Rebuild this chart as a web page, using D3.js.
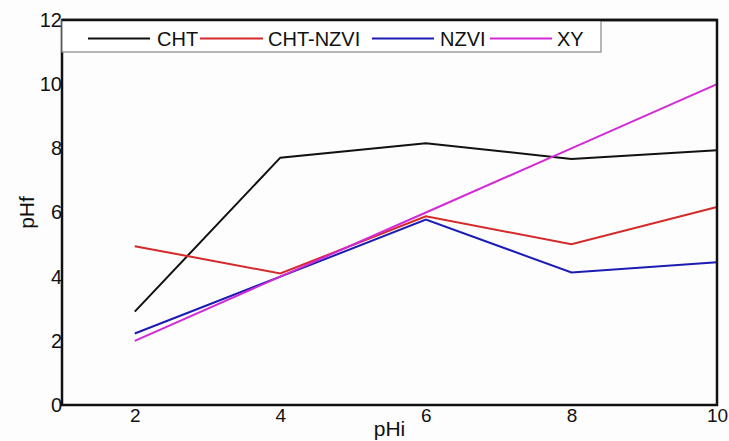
<!DOCTYPE html>
<html>
<head>
<meta charset="utf-8">
<script src="https://cdn.jsdelivr.net/npm/d3@7"></script>
<style>
  html, body { margin: 0; padding: 0; background: #fdfdfd; }
  svg { display: block; }
  text { font-family: "Liberation Sans", Arial, sans-serif; fill: #111; }
</style>
</head>
<body>
<svg id="chart" width="729" height="441"></svg>
<script>
// Initial pH vs final pH for each adsorbent
const pHi = [2, 4, 6, 8, 10];
const cht = [2.91, 7.71, 8.16, 7.67, 7.94];
const chtNzvi = [4.95, 4.1, 5.88, 5.01, 6.17];
const nzvi = [2.23, 4.0, 5.78, 4.13, 4.45];
const xy = [2, 4, 6, 8, 10];
const xTicks = [2, 4, 6, 8, 10];
const yTicks = [0, 2, 4, 6, 8, 10, 12];

const seriesNames = ["CHT", "CHT-NZVI", "NZVI", "XY"];
const seriesValues = [cht, chtNzvi, nzvi, xy];
const seriesColors = ["#111111", "#d42a2a", "#1c1cb4", "#d22ad6"];

const svg = d3.select("#chart");
const margin = { left: 62, right: 12, top: 20, bottom: 36 };
const W = 729, H = 441;

const x = d3.scaleLinear().domain([1, 10]).range([margin.left, W - margin.right]);
const y = d3.scaleLinear().domain([0, 12]).range([H - margin.bottom, margin.top]);

// Series lines
const line = d3.line().x((d, i) => x(pHi[i])).y(d => y(d));
svg.append("g").selectAll("path")
  .data(seriesValues)
  .join("path")
  .attr("d", d => line(d))
  .attr("fill", "none")
  .attr("stroke", (d, i) => seriesColors[i])
  .attr("stroke-width", 2)
  .attr("stroke-linejoin", "miter");

// Axes without tick marks, labels hugging the frame
const xAxis = svg.append("g")
  .attr("transform", `translate(0,${y(0)})`)
  .call(d3.axisBottom(x).tickValues(xTicks).tickSize(0).tickPadding(3));
xAxis.select(".domain").remove();
xAxis.selectAll("text").attr("font-size", 19).attr("font-family", "Liberation Sans, Arial, sans-serif").attr("fill", "#111");

const yAxis = svg.append("g")
  .attr("transform", `translate(${x(1)},0)`)
  .call(d3.axisLeft(y).tickValues(yTicks).tickSize(0).tickPadding(0));
yAxis.select(".domain").remove();
yAxis.selectAll("text").attr("font-size", 20).attr("font-family", "Liberation Sans, Arial, sans-serif").attr("fill", "#111");

// Frame
svg.append("rect")
  .attr("x", x(1)).attr("y", y(12))
  .attr("width", x(10) - x(1)).attr("height", y(0) - y(12))
  .attr("fill", "none").attr("stroke", "#111").attr("stroke-width", 2.5);

// Legend
const legend = svg.append("g");
legend.append("rect")
  .attr("x", x(1)).attr("y", y(12))
  .attr("width", 539).attr("height", 32)
  .attr("fill", "#fff").attr("stroke", "#888").attr("stroke-width", 1.2);
svg.append("line")
  .attr("x1", x(1)).attr("x2", x(10)).attr("y1", y(12)).attr("y2", y(12))
  .attr("stroke", "#111").attr("stroke-width", 2.5);
const legendItems = [
  { x1: 88, x2: 150, tx: 157 },
  { x1: 200, x2: 263, tx: 268 },
  { x1: 372, x2: 434, tx: 440 },
  { x1: 490, x2: 552, tx: 557 }
];
const ly = 38.5;
legendItems.forEach((it, i) => {
  legend.append("line")
    .attr("x1", it.x1).attr("x2", it.x2).attr("y1", ly).attr("y2", ly)
    .attr("stroke", seriesColors[i]).attr("stroke-width", 2);
  legend.append("text")
    .attr("x", it.tx).attr("y", ly + 7)
    .attr("font-size", 20)
    .text(seriesNames[i]);
});

// Axis titles
svg.append("text")
  .attr("x", (x(1) + x(10)) / 2).attr("y", 436)
  .attr("text-anchor", "middle").attr("font-size", 21)
  .text("pHi");
svg.append("text")
  .attr("transform", `translate(34,${y(6)}) rotate(-90)`)
  .attr("text-anchor", "middle").attr("font-size", 21)
  .text("pHf");
</script>
</body>
</html>
